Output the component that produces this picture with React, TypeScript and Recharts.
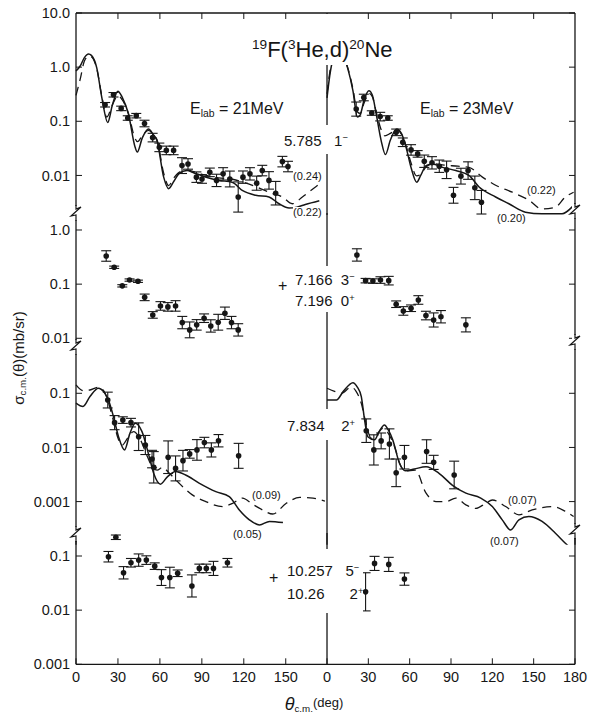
import React from 'react';
import { ComposedChart, Line, Scatter, ErrorBar, XAxis, YAxis } from 'recharts';

// 19F(3He,d)20Ne angular distributions, E_lab = 21 MeV (left half) and 23 MeV (right half)
// curves: [theta_cm, sigma], points: [theta_cm, sigma, error factor]
type Pt = [number, number];
type DataPt = [number, number, number];

const xTicksLeft = [0, 30, 60, 90, 120, 150];
const xTicksRight = [0, 30, 60, 90, 120, 150, 180];
const xTicksTop = [30, 60, 90, 120, 150];

// ---- 5.785 1- ----
const p1LeftSolid: Pt[] = [
  [0, 0.85], [3, 1.05], [6, 1.5], [9, 1.75], [11, 1.65], [14.8, 0.98], [18.4, 0.28], [22.7, 0.095],
  [26, 0.2], [29.9, 0.36], [33, 0.28], [37.5, 0.136], [42.3, 0.033], [43.8, 0.027], [47.5, 0.05],
  [51.9, 0.072], [55, 0.058], [57.9, 0.044], [62.7, 0.0093], [66.2, 0.0057], [70, 0.0078],
  [73.5, 0.0107], [79.4, 0.0123], [84, 0.0112], [90, 0.0099], [102, 0.0081], [111.7, 0.0075],
  [118.9, 0.0053], [128.5, 0.0043], [138, 0.004], [145.2, 0.003], [152.4, 0.0025], [158, 0.0026],
  [164, 0.0029], [174, 0.0034],
];
const p1LeftDashed: Pt[] = [
  [0, 0.3], [3, 0.6], [6, 1.3], [9, 1.6], [11, 1.55], [14.8, 0.95], [18.4, 0.3], [22, 0.12],
  [26, 0.2], [30, 0.3], [33, 0.25], [37.5, 0.14], [42, 0.05], [44, 0.042], [47.5, 0.055],
  [51.9, 0.068], [55, 0.058], [58, 0.045], [62.7, 0.011], [66.2, 0.0065], [70, 0.009],
  [74, 0.0115], [79.4, 0.0125], [90, 0.0105], [102, 0.009], [112, 0.0085], [120, 0.0075],
  [130, 0.006], [140, 0.0047], [147.6, 0.004], [154.7, 0.003], [161.9, 0.004], [171.5, 0.0062],
  [175, 0.0072],
];
const p1LeftPts: DataPt[] = [
  [20.8, 0.202, 1.1], [26.8, 0.309, 1.1], [32.3, 0.173, 1.1], [37.0, 0.115, 1.1], [43.1, 0.127, 1.1],
  [49.0, 0.091, 1.15], [54.8, 0.05, 1.2], [59.6, 0.033, 1.2], [64.6, 0.029, 1.2], [69.8, 0.029, 1.2],
  [75.8, 0.0152, 1.4], [80.1, 0.0163, 1.25], [86.1, 0.0093, 1.25], [90.1, 0.0086, 1.2],
  [95.7, 0.0114, 1.2], [100.5, 0.0081, 1.3], [105.2, 0.0107, 1.3], [110.0, 0.0086, 1.4],
  [116.0, 0.004, 1.9], [119.4, 0.0093, 1.3], [124.4, 0.0107, 1.3], [129.2, 0.0072, 1.35],
  [133.2, 0.0123, 1.25], [138.0, 0.0081, 1.45], [142.8, 0.0047, 1.65], [147.6, 0.018, 1.25],
  [151.6, 0.0146, 1.25],
];
const p1RightSolid: Pt[] = [
  [0, 0.27], [2, 0.7], [4, 1.3], [8, 2.0], [12, 1.6], [15.2, 0.92], [18.8, 0.37], [22, 0.12],
  [24, 0.13], [27, 0.25], [30.4, 0.366], [33, 0.3], [35.7, 0.137], [39.3, 0.044], [42.4, 0.0243],
  [46, 0.045], [50.6, 0.072], [54, 0.06], [57.4, 0.033], [61, 0.014], [65.1, 0.0075], [68, 0.01],
  [71.9, 0.0152], [76.6, 0.0163], [83.9, 0.0141], [93.5, 0.0123], [103.2, 0.0099], [110.4, 0.0061],
  [122.4, 0.004], [132, 0.003], [144, 0.0021], [156, 0.00196], [170.6, 0.00196], [177.8, 0.0026],
  [180, 0.003],
];
const p1RightDashed: Pt[] = [
  [0, 0.32], [2, 0.8], [4, 1.4], [8, 1.9], [12, 1.5], [15.2, 0.95], [18.8, 0.4], [22, 0.15],
  [24, 0.14], [27, 0.22], [30.4, 0.33], [33, 0.28], [35.7, 0.15], [39.3, 0.07], [42, 0.054],
  [46, 0.06], [50.6, 0.07], [54, 0.058], [57.4, 0.035], [61, 0.017], [65, 0.0098], [68, 0.0105],
  [72, 0.0145], [77, 0.0165], [85, 0.0155], [95, 0.0148], [103, 0.0141], [112.8, 0.0093],
  [122.4, 0.0066], [134.5, 0.0049], [146.5, 0.0035], [156, 0.0024], [165.8, 0.0026], [173, 0.004],
  [179, 0.0049],
];
const p1RightPts: DataPt[] = [
  [21.2, 0.168, 1.35], [26.7, 0.275, 1.15], [32.5, 0.142, 1.1], [38.6, 0.122, 1.2], [44.1, 0.115, 1.1],
  [50.2, 0.0625, 1.15], [55.0, 0.041, 1.2], [61.0, 0.0296, 1.25], [65.8, 0.025, 1.15],
  [70.6, 0.0183, 1.3], [76.2, 0.0171, 1.3], [81.5, 0.0148, 1.3], [86.8, 0.0127, 1.45],
  [91.8, 0.0043, 1.4], [97.2, 0.0097, 1.4], [102.4, 0.0123, 1.45], [107.3, 0.0059, 1.65],
  [112.1, 0.0032, 1.65],
];

// ---- 7.166 3- / 7.196 0+ ----
const p2LeftPts: DataPt[] = [
  [21.6, 0.331, 1.25], [27.3, 0.205, 1.05], [33.1, 0.093, 1.05], [38.3, 0.119, 1.05], [44.3, 0.113, 1.05],
  [49.1, 0.057, 1.15], [54.9, 0.027, 1.15], [60.4, 0.0396, 1.2], [65.7, 0.038, 1.2], [71.2, 0.0396, 1.25],
  [76.0, 0.0195, 1.3], [81.3, 0.0143, 1.4], [86.3, 0.0177, 1.25], [91.6, 0.0235, 1.2],
  [96.4, 0.0169, 1.3], [101.7, 0.0198, 1.4], [106.5, 0.029, 1.3], [111.2, 0.0195, 1.3],
  [116.0, 0.0143, 1.3],
];
const p2RightPts: DataPt[] = [
  [21.7, 0.346, 1.3], [28.0, 0.116, 1.1], [33.3, 0.114, 1.1], [38.8, 0.119, 1.15], [44.8, 0.116, 1.2],
  [50.2, 0.0426, 1.15], [55.4, 0.032, 1.2], [61.0, 0.0359, 1.15], [66.3, 0.051, 1.2],
  [71.8, 0.0263, 1.2], [77.4, 0.0218, 1.35], [82.7, 0.025, 1.3], [100.8, 0.0177, 1.35],
];

// ---- 7.834 2+ ----
const p3LeftSolid: Pt[] = [
  [0, 0.066], [5, 0.057], [10, 0.087], [16, 0.124], [20, 0.105], [23.2, 0.075], [26.8, 0.037],
  [30.4, 0.0158], [34.7, 0.009], [38.5, 0.018], [42.4, 0.028], [47.2, 0.0196], [52, 0.0073],
  [55.6, 0.0033], [60.4, 0.0021], [65, 0.0028], [71.2, 0.0036], [78.4, 0.0031], [88, 0.0022],
  [100, 0.00153], [109.6, 0.00124], [116.8, 0.0007], [124, 0.00046], [131.2, 0.00037],
  [138.4, 0.00043], [148, 0.00041],
];
const p3LeftDashed: Pt[] = [
  [0, 0.143], [5, 0.112], [10, 0.115], [16, 0.129], [20, 0.11], [23, 0.07], [26.5, 0.033],
  [30, 0.015], [33, 0.011], [37, 0.015], [41.2, 0.0196], [46, 0.014], [51, 0.0068], [55, 0.0042],
  [58, 0.0038], [62, 0.0043], [66, 0.0035], [73.6, 0.0022], [83.2, 0.00133], [92.8, 0.001],
  [104.8, 0.00081], [112, 0.00093], [119.1, 0.00116], [126, 0.0009], [133.5, 0.0007],
  [140.7, 0.00059], [150.4, 0.00093], [160, 0.0012], [169.5, 0.00116], [178, 0.00102],
];
const p3LeftPts: DataPt[] = [
  [22.7, 0.075, 1.4], [27.6, 0.0287, 1.35], [33.5, 0.032, 1.15], [39.3, 0.0287, 1.2], [44.8, 0.0158, 1.8],
  [49.6, 0.0111, 1.5], [54.4, 0.0061, 1.45], [55.6, 0.0043, 1.95], [65.9, 0.0066, 2.0],
  [71.2, 0.0041, 1.7], [76.5, 0.0057, 1.55], [81.3, 0.0076, 1.2], [86.5, 0.009, 1.55],
  [91.8, 0.0123, 1.25], [96.8, 0.009, 1.35], [101.9, 0.0133, 1.3], [116.3, 0.007, 1.7],
];
const p3RightSolid: Pt[] = [
  [0, 0.075], [6.8, 0.075], [12, 0.11], [18.8, 0.157], [22, 0.13], [24.9, 0.087], [27.3, 0.032],
  [29.6, 0.0158], [34.5, 0.0138], [38, 0.02], [41.7, 0.026], [44.5, 0.021], [47.7, 0.0138],
  [52.6, 0.0051], [56.9, 0.0037], [63.4, 0.004], [71.9, 0.0044], [81.5, 0.0033], [91.1, 0.002],
  [100.8, 0.00143], [111.6, 0.00116], [120, 0.00081], [127.2, 0.00046], [133.3, 0.0003],
  [139.3, 0.00046], [146.5, 0.00053], [156.1, 0.00043], [165.8, 0.00026], [173, 0.00017],
  [178, 0.00013],
];
const p3RightDashed: Pt[] = [
  [0, 0.124], [5, 0.11], [10.4, 0.1], [17.6, 0.13], [21, 0.11], [24.9, 0.065], [28, 0.03],
  [32.1, 0.0148], [36, 0.017], [40.5, 0.0226], [44, 0.019], [49, 0.0104], [53.8, 0.0044],
  [57, 0.0037], [64.1, 0.0038], [71.9, 0.00143], [79.1, 0.001], [86.3, 0.001], [93.5, 0.00116],
  [100.8, 0.00087], [108, 0.00075], [115.2, 0.00093], [120, 0.00107], [129.7, 0.00081],
  [139.3, 0.00057], [148.9, 0.0007], [163.4, 0.00081], [173, 0.00066], [179, 0.00053],
];
const p3RightPts: DataPt[] = [
  [28.5, 0.0204, 1.65], [34.0, 0.009, 1.9], [39.3, 0.0132, 1.4], [45.3, 0.0116, 1.9], [50.2, 0.0034, 1.8],
  [56.2, 0.0066, 1.65], [72.3, 0.0084, 1.65], [77.4, 0.0053, 1.35], [92.3, 0.0031, 1.8],
];

// ---- 10.257 5- / 10.26 2+ ----
const p4LeftPts: DataPt[] = [
  [23.2, 0.097, 1.25], [28.5, 0.222, 1.1], [34.0, 0.049, 1.3], [39.3, 0.075, 1.2], [44.8, 0.084, 1.3],
  [50.3, 0.084, 1.2], [56.3, 0.065, 1.15], [61.1, 0.04, 1.4], [67.1, 0.04, 1.55], [72.7, 0.048, 1.15],
  [82.9, 0.028, 1.6], [88.2, 0.059, 1.2], [93.2, 0.059, 1.2], [98.3, 0.059, 1.35], [108.3, 0.075, 1.2],
];
const p4RightPts: DataPt[] = [
  [28.0, 0.0218, 2.25], [34.5, 0.073, 1.35], [44.8, 0.07, 1.35], [56.2, 0.0375, 1.3],
];

const FONT = '"Liberation Sans", Arial, sans-serif';
const INK = '#161616';
const DEC = 54.15; // px per decade
const X_L0 = 76;
const X_MID = 327;
const X_R1 = 575;
const YW = 60;
const BW = 40;
const PAD = 12; // room so edge tick labels are not clipped

const curve = (pts: Pt[]) => pts.map(([t, v]) => ({ t, v }));
const points = (pts: DataPt[]) => pts.map(([t, v, f]) => ({ t, v, e: [v - v / f, v * f - v] }));
const fmtY = (v: number) => (v >= 1 ? v.toFixed(1) : String(v));

interface Side { solid?: Pt[]; dashed?: Pt[]; pts: DataPt[] }
interface Panel { top: number; domain: [number, number]; ticks: number[]; axis: 'top' | 'bottom' | 'none'; left: Side; right: Side }

const panels: Panel[] = [
  { top: 12.7, domain: [0.0018, 10], ticks: [0.01, 0.1, 1, 10], axis: 'top',
    left: { solid: p1LeftSolid, dashed: p1LeftDashed, pts: p1LeftPts },
    right: { solid: p1RightSolid, dashed: p1RightDashed, pts: p1RightPts } },
  { top: 213, domain: [0.0069, 2.06], ticks: [0.01, 0.1, 1], axis: 'none',
    left: { pts: p2LeftPts }, right: { pts: p2RightPts } },
  { top: 347, domain: [0.00016, 0.716], ticks: [0.001, 0.01, 0.1], axis: 'none',
    left: { solid: p3LeftSolid, dashed: p3LeftDashed, pts: p3LeftPts },
    right: { solid: p3RightSolid, dashed: p3RightDashed, pts: p3RightPts } },
  { top: 533, domain: [0.001, 0.266], ticks: [0.001, 0.01, 0.1], axis: 'bottom',
    left: { pts: p4LeftPts }, right: { pts: p4RightPts } },
];

const Dot = (p: any) => <circle cx={p.cx} cy={p.cy} r={2.8} fill={INK} />;

function Half({ panel, isLeft }: { panel: Panel; isLeft: boolean }) {
  const s = isLeft ? panel.left : panel.right;
  const plotH = Math.log10(panel.domain[1] / panel.domain[0]) * DEC;
  const plotW = isLeft ? X_MID - X_L0 : X_R1 - X_MID;
  const leftW = isLeft ? YW : 1;
  const rightW = isLeft ? 0 : 1;
  const topH = panel.axis === 'top' ? 1 : 0;
  const botH = panel.axis === 'bottom' ? BW : 0;
  const tickStyle = { fontSize: 14.5, fill: INK, fontFamily: FONT };
  return (
    <div style={{ position: 'absolute', left: (isLeft ? X_L0 : X_MID) - leftW - PAD, top: panel.top - topH - PAD }}>
      <ComposedChart
        width={leftW + plotW + rightW + 2 * PAD} height={topH + plotH + botH + PAD}
        margin={{ top: PAD, right: PAD, bottom: 0, left: PAD }}
      >
        <XAxis
          xAxisId="x" dataKey="t" type="number" domain={isLeft ? [0, 179.5] : [0, 180]}
          hide={panel.axis === 'none'} orientation={panel.axis === 'top' ? 'top' : 'bottom'}
          height={panel.axis === 'top' ? 1 : BW}
          ticks={panel.axis === 'top' ? xTicksTop : isLeft ? xTicksLeft : xTicksRight}
          interval={0} tickSize={-6} tickMargin={13}
          tickFormatter={panel.axis === 'top' ? () => '' : (v: number) => String(v)}
          tick={tickStyle} stroke={INK} axisLine={{ stroke: INK, strokeWidth: 1.3 }}
        />
        <YAxis
          yAxisId="y" orientation="left" scale="log" domain={panel.domain} allowDataOverflow
          width={leftW} ticks={isLeft ? panel.ticks : []} interval={0} tickSize={-6} tickMargin={12}
          tickFormatter={fmtY} tick={isLeft ? tickStyle : false} tickLine={isLeft ? { stroke: INK } : false}
          axisLine={{ stroke: INK, strokeWidth: 1.3 }}
        />
        {!isLeft && (
          <YAxis
            yAxisId="r" orientation="right" scale="log" domain={panel.domain} allowDataOverflow
            width={1} ticks={panel.ticks} interval={0} tickSize={-6} tickFormatter={() => ''}
            tick={tickStyle} tickLine={{ stroke: INK }} axisLine={{ stroke: INK, strokeWidth: 1.3 }}
          />
        )}
        {s.solid && (
          <Line xAxisId="x" yAxisId="y" data={curve(s.solid)} dataKey="v" type="monotone"
            stroke={INK} strokeWidth={1.5} dot={false} isAnimationActive={false} />
        )}
        {s.dashed && (
          <Line xAxisId="x" yAxisId="y" data={curve(s.dashed)} dataKey="v" type="monotone"
            stroke={INK} strokeWidth={1.3} strokeDasharray="9 6" dot={false} isAnimationActive={false} />
        )}
        <Scatter xAxisId="x" yAxisId="y" data={points(s.pts)} dataKey="v" shape={Dot} isAnimationActive={false}>
          <ErrorBar dataKey="e" direction="y" width={5} stroke={INK} strokeWidth={1.1} />
        </Scatter>
      </ComposedChart>
    </div>
  );
}

const Note = ({ x, y, size = 15, children, pad = 0 }: { x: number; y: number; size?: number; children: React.ReactNode; pad?: number }) => (
  <div style={{
    position: 'absolute', left: x, top: y - size / 2 - pad, padding: `${pad}px 0`, fontSize: size,
    lineHeight: `${size}px`, whiteSpace: 'nowrap', background: '#fff', color: INK, fontFamily: FONT,
  }}>
    {children}
  </div>
);

const sub = { fontSize: '0.65em', verticalAlign: '-0.25em' } as const;
const sup = { fontSize: '0.62em', verticalAlign: '0.55em' } as const;

// small zigzag axis breaks
const breaks: Pt[] = [[X_L0, 213], [X_L0, 347], [X_L0, 534], [X_R1, 211], [X_R1, 342], [X_R1, 531]];

export default function App() {
  return (
    <div style={{ position: 'absolute', left: 0, top: 0, width: 593, height: 716, background: '#fff', overflow: 'hidden', fontFamily: FONT, color: INK }}>
      {panels.map((p, i) => (
        <React.Fragment key={i}>
          <Half panel={p} isLeft />
          <Half panel={p} isLeft={false} />
        </React.Fragment>
      ))}

      <svg width={593} height={716} style={{ position: 'absolute', left: 0, top: 0, pointerEvents: 'none' }}>
        <rect x={X_MID - 2} y={14} width={4} height={18} fill="#fff" />
        {breaks.map(([x, y], i) => (
          <g key={i}>
            <rect x={x - 3} y={y - 7} width={6} height={14} fill="#fff" />
            <path d={`M${x},${y - 8} L${x},${y - 4} L${x + 5},${y - 6} L${x - 5},${y + 3} L${x},${y + 2} L${x},${y + 8}`}
              fill="none" stroke={INK} strokeWidth={1.2} />
          </g>
        ))}
      </svg>

      {/* title */}
      <div style={{ position: 'absolute', left: 250, top: 30, fontSize: 22, lineHeight: '30px', background: '#fff', padding: '0 2px', whiteSpace: 'nowrap' }}>
        <span style={sup}>19</span>F(<span style={sup}>3</span>He,d)<span style={sup}>20</span>Ne
      </div>

      <Note x={190} y={109} size={16}>E<span style={sub}>lab</span> = 21MeV</Note>
      <Note x={420} y={109} size={16}>E<span style={sub}>lab</span> = 23MeV</Note>

      <Note x={284} y={138} pad={6}>5.785&nbsp;&nbsp;&nbsp;1<span style={sup}>−</span></Note>
      <Note x={278} y={286} size={16}>+</Note>
      <div style={{ position: 'absolute', left: 295, top: 266, background: '#fff', fontSize: 15, lineHeight: '19px', padding: '2px 0', whiteSpace: 'nowrap', fontFamily: FONT }}>
        <div>7.166&nbsp;&nbsp;3<span style={sup}>−</span></div>
        <div>7.196&nbsp;&nbsp;0<span style={sup}>+</span></div>
      </div>
      <Note x={287} y={423} pad={7}>7.834&nbsp;&nbsp;&nbsp;&nbsp;2<span style={sup}>+</span></Note>
      <Note x={269} y={578} size={16}>+</Note>
      <div style={{ position: 'absolute', left: 287, top: 549, background: '#fff', fontSize: 15, lineHeight: '20px', padding: '9px 0', whiteSpace: 'nowrap', fontFamily: FONT }}>
        <div>10.257&nbsp;&nbsp;&nbsp;5<span style={sup}>−</span></div>
        <div>10.26&nbsp;&nbsp;&nbsp;&nbsp;&nbsp;&nbsp;2<span style={sup}>+</span></div>
      </div>

      <Note x={293} y={176} size={11}>(0.24)</Note>
      <Note x={293} y={212} size={11}>(0.22)</Note>
      <Note x={527} y={190} size={11}>(0.22)</Note>
      <Note x={497} y={218} size={11}>(0.20)</Note>
      <Note x={252} y={495} size={11}>(0.09)</Note>
      <Note x={233} y={534} size={11}>(0.05)</Note>
      <Note x={508} y={500} size={11}>(0.07)</Note>
      <Note x={490} y={541} size={11}>(0.07)</Note>

      <div style={{ position: 'absolute', left: 19, top: 358, transform: 'translate(-50%, -50%) rotate(-90deg)', fontSize: 15, whiteSpace: 'nowrap' }}>
        σ<span style={sub}>c.m.</span>(θ)(mb/sr)
      </div>
      <div style={{ position: 'absolute', left: 314, top: 704, transform: 'translate(-50%, -50%)', fontSize: 15, whiteSpace: 'nowrap' }}>
        <i style={{ fontSize: 18 }}>θ</i><span style={sub}>c.m.</span><span style={{ fontSize: 13, verticalAlign: '0.2em' }}>(deg)</span>
      </div>
    </div>
  );
}
